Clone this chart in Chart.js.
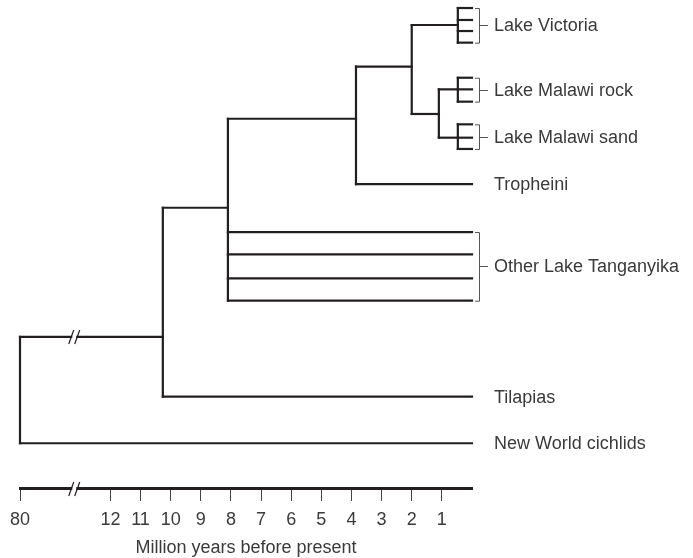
<!DOCTYPE html>
<html>
<head>
<meta charset="utf-8">
<script src="https://cdn.jsdelivr.net/npm/chart.js@4.4.0/dist/chart.umd.min.js"></script>
<style>
  body { margin: 0; background: #fff; }
</style>
</head>
<body>
<canvas id="myChart" width="693" height="558"></canvas>
<script>
// tree nodes: age (million years), row (vertical order), parent index
const nodeAge    = [80, 10.26, 0, 8.1, 0, 3.85, 0, 0, 0, 0, 2.0, 0, 0.47, 1.1, 0, 0, 0, 0, 0.47, 0.47, 0, 0, 0, 0, 0, 0];
const nodeRow    = [33, 29.0, 38.15, 17.88, 34.14, 10.22, 19.97, 21.89, 23.95, 25.88, 5.74, 15.84, 2.15, 9.81,
                    0.69, 1.72, 2.67, 3.67, 7.69, 11.85, 6.69, 7.69, 8.75, 10.7, 11.85, 12.82];
const nodeParent = [-1, 0, 0, 1, 1, 3, 3, 3, 3, 3, 5, 5, 10, 10, 12, 12, 12, 12, 13, 13, 18, 18, 18, 19, 19, 19];

const cladeLabels = ['Lake Victoria', 'Lake Malawi rock', 'Lake Malawi sand', 'Tropheini',
                     'Other Lake Tanganyika', 'Tilapias', 'New World cichlids'];
const cladeTips = [[14, 15, 16, 17], [20, 21, 22], [23, 24, 25], [11], [6, 7, 8, 9], [4], [2]];

const tickAges = [80, 12, 11, 10, 9, 8, 7, 6, 5, 4, 3, 2, 1];

// broken axis: anything older than 12 sits at position 15
const breakPos = 13.2;
function toPos(age) {
    return age > 12 ? 15 : age;
}

const lineColor = '#231f20';
const textColor = '#3a3a3a';
const fontFamily = '"Liberation Sans", Arial, Helvetica, sans-serif';

const datasets = [];
function seg(p1, p2) {
    datasets.push({
        data: [p1, p2],
        showLine: true,
        borderColor: lineColor,
        borderWidth: 2.2,
        borderCapStyle: 'square',
        pointRadius: 0,
        fill: false,
        clip: false
    });
}

// horizontal branches
nodeParent.forEach(function(p, i){
    if (p < 0) return;
    seg({x: toPos(nodeAge[p]), y: nodeRow[i]}, {x: toPos(nodeAge[i]), y: nodeRow[i]});
});
// vertical connectors
nodeAge.forEach(function(a, i){
    const kids = nodeRow.filter(function(r, j){ return nodeParent[j] === i; });
    if (!kids.length) return;
    seg({x: toPos(a), y: Math.min.apply(null, kids)}, {x: toPos(a), y: Math.max.apply(null, kids)});
});

function drawBreak(ctx, x, y) {
    ctx.save();
    ctx.fillStyle = '#fff';
    ctx.fillRect(x - 2, y - 3, 4, 6);
    ctx.strokeStyle = lineColor;
    ctx.lineWidth = 1.2;
    [-3, 3].forEach(function(dx){
        ctx.beginPath();
        ctx.moveTo(x + dx - 2.5, y + 7);
        ctx.lineTo(x + dx + 2.5, y - 7);
        ctx.stroke();
    });
    ctx.restore();
}

const labelPlugin = {
    id: 'cladeLabels',
    afterDraw: function(chart){
        const ctx = chart.ctx;
        const xs = chart.scales.x, ys = chart.scales.y;
        const right = chart.chartArea.right;
        ctx.save();
        ctx.font = '18px ' + fontFamily;
        ctx.fillStyle = textColor;
        ctx.textBaseline = 'middle';
        cladeLabels.forEach(function(label, k){
            const rows = cladeTips[k].map(function(t){ return nodeRow[t]; });
            const top = ys.getPixelForValue(Math.min.apply(null, rows));
            const bot = ys.getPixelForValue(Math.max.apply(null, rows));
            const mid = (top + bot) / 2;
            if (rows.length > 1) {
                const bx = right + 7.5;
                ctx.strokeStyle = '#555';
                ctx.lineWidth = 1;
                ctx.beginPath();
                ctx.moveTo(right + 3, top + 0.5);
                ctx.lineTo(bx, top + 0.5);
                ctx.lineTo(bx, bot + 0.5);
                ctx.lineTo(right + 3, bot + 0.5);
                ctx.moveTo(bx, Math.round(mid) + 0.5);
                ctx.lineTo(right + 16, Math.round(mid) + 0.5);
                ctx.stroke();
            }
            ctx.fillText(label, right + 22, mid + 1);
        });
        ctx.restore();
        // break marks on the root branch and on the axis
        const bx = xs.getPixelForValue(breakPos);
        drawBreak(ctx, bx, ys.getPixelForValue(nodeRow[1]));
        drawBreak(ctx, bx, chart.chartArea.bottom + 1);
    }
};

const ctx = document.getElementById('myChart');
new Chart(ctx, {
    type: 'scatter',
    data: { datasets: datasets },
    options: {
        responsive: false,
        animation: false,
        events: [],
        layout: { padding: { left: 20, right: 221, top: 0, bottom: 0 } },
        plugins: {
            legend: { display: false },
            tooltip: { enabled: false }
        },
        scales: {
            x: {
                type: 'linear',
                reverse: true,
                min: 0,
                max: 15,
                afterBuildTicks: function(s){
                    s.ticks = tickAges.map(function(a){ return {value: toPos(a)}; });
                },
                afterFit: function(s){ s.height = 70; },
                ticks: {
                    autoSkip: false,
                    maxRotation: 0,
                    padding: 8,
                    color: textColor,
                    font: { size: 18, family: fontFamily },
                    callback: function(v, i){ return String(tickAges[i]); }
                },
                grid: {
                    drawOnChartArea: false,
                    tickLength: 13,
                    tickWidth: 1,
                    tickColor: '#444'
                },
                border: { width: 3, color: lineColor },
                title: {
                    display: true,
                    text: 'Million years before present',
                    color: textColor,
                    font: { size: 18, family: fontFamily },
                    padding: { top: 0, bottom: -1 }
                }
            },
            y: { type: 'linear', reverse: true, min: 0, max: 42, display: false }
        }
    },
    plugins: [labelPlugin]
});
</script>
</body>
</html>
